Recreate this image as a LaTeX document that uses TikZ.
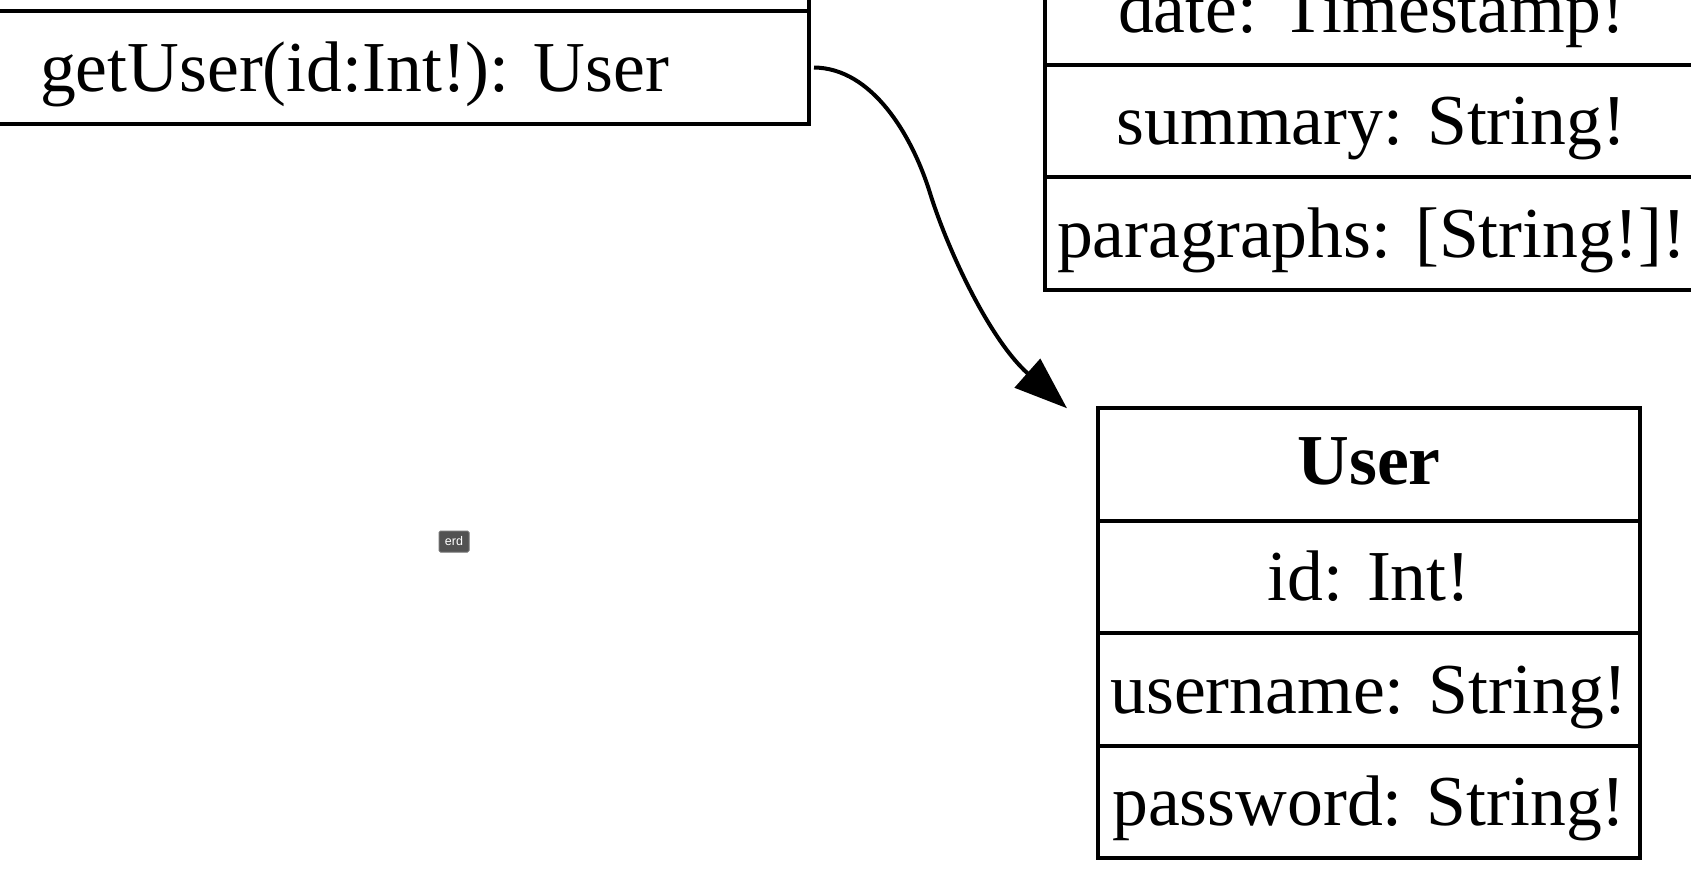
\documentclass[tikz,border=0pt]{standalone}
\usepackage{fontspec}
\setmainfont{Liberation Serif}
\newfontfamily\badgefont{Liberation Sans}
\usetikzlibrary{arrows.meta, positioning}

\begin{document}
\begin{tikzpicture}[
    x=0.2pt, y=-0.2pt,
    field/.style={draw, line width=0.85pt, inner sep=0pt, outer sep=0pt,
                  minimum height=22.5pt, text height=9.5pt, text depth=0pt,
                  font=\fontsize{14.33}{17}\selectfont},
    header/.style={field, text height=8pt, font=\fontsize{14.33}{17}\selectfont\bfseries},
    flow/.style={-{Triangle[length=10.6pt, width=7.6pt]}, line width=0.8pt},
    badge/.style={fill=black!68, draw=black!55, line width=0.2pt,
                  rounded corners=0.3pt, minimum width=6pt, minimum height=4.2pt,
                  inner sep=0pt, text=white,
                  font=\badgefont\fontsize{2.5}{3}\selectfont},
]
    \useasboundingbox (0,0) rectangle (1691,884);
    \clip (0,0) rectangle (1691,884);

    % query table, cut off at the top left
    \node[field, minimum width=181.8pt] (queryrow) at (354.5, -45) {};
    \node[field, minimum width=181.8pt, below=0pt of queryrow] (getuser) {getUser(id:Int!): User};

    % article table, cut off at the top right
    \node[field, minimum width=130.6pt] (date) at (1371.5, 8.5) {date: Timestamp!};
    \node[field, minimum width=130.6pt, below=0pt of date] (summary) {summary: String!};
    \node[field, minimum width=130.6pt, below=0pt of summary] (paragraphs) {paragraphs: [String!]!};

    % user table
    \node[header, minimum width=108.4pt] (user) at (1369, 464.5) {User};
    \node[field, minimum width=108.4pt, below=0pt of user] (userid) {id: Int!};
    \node[field, minimum width=108.4pt, below=0pt of userid] (username) {username: String!};
    \node[field, minimum width=108.4pt, below=0pt of username] (password) {password: String!};

    \node[badge] (erd) at (454, 541.5) {erd};

    \coordinate (userin) at ([xshift=-6.2pt]user.north west);
    \draw[flow] ([xshift=1pt]getuser.east) .. controls (872,68) and (912,135) .. (930,193)
        .. controls (948,251) and (990,340) .. (userin);
\end{tikzpicture}
\end{document}
